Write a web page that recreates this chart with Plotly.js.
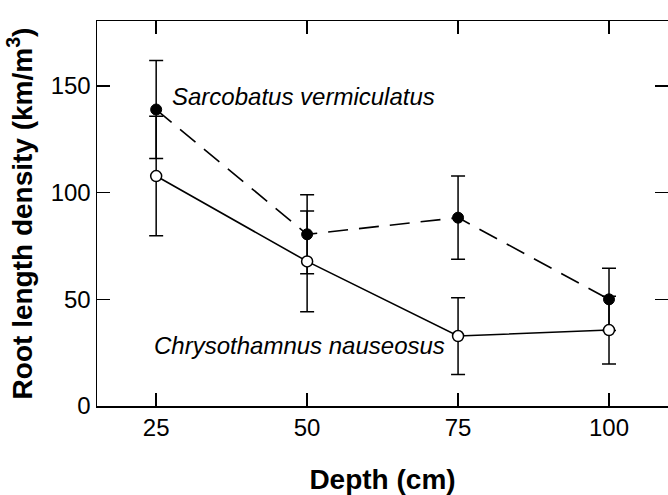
<!DOCTYPE html>
<html>
<head>
<meta charset="utf-8">
<script src="https://cdn.plot.ly/plotly-3.0.1.min.js"></script>
<style>html,body{margin:0;padding:0;background:#fff;}#chart{width:668px;height:495px;}</style>
</head>
<body>
<div id="chart"></div>
<script>
const depth = [25, 50, 75, 100];
const sarcobatus = [139, 80.5, 88.3, 50];
const sarcobatusErr = [23, 18.5, 19.5, 14.6];
const chrysothamnus = [107.8, 67.8, 32.8, 35.6];
const chrysothamnusErr = [28, 23.6, 18, 15.9];
const xTicks = [25, 50, 75, 100];
const yTicks = [0, 50, 100, 150];
const labelSarco = "Sarcobatus vermiculatus";
const labelChryso = "Chrysothamnus nauseosus";

const FONT = "Liberation Sans, Arial, Helvetica, sans-serif";

const traces = [
  {
    x: depth, y: sarcobatus, type: 'scatter', mode: 'lines+markers',
    name: labelSarco,
    line: {color: '#000', width: 1.6, dash: '20px,11px'},
    marker: {symbol: 'circle', size: 11, color: '#000', line: {color: '#000', width: 1}},
    error_y: {type: 'data', array: sarcobatusErr, visible: true, color: '#000', thickness: 1.5, width: 7}
  },
  {
    x: depth, y: chrysothamnus, type: 'scatter', mode: 'lines+markers',
    name: labelChryso,
    line: {color: '#000', width: 1.6},
    marker: {symbol: 'circle', size: 11, color: '#fff', line: {color: '#000', width: 1.5}},
    error_y: {type: 'data', array: chrysothamnusErr, visible: true, color: '#000', thickness: 1.5, width: 7}
  }
];

const layout = {
  width: 668, height: 495,
  margin: {l: 97, r: 0, t: 21, b: 89},
  paper_bgcolor: '#fff', plot_bgcolor: '#fff',
  showlegend: false,
  font: {family: FONT, color: '#000', size: 24},
  xaxis: {
    range: [15.2, 109.77],
    tickvals: xTicks, ticktext: xTicks.map(String),
    ticks: 'inside', ticklen: 13, tickwidth: 1.5, tickcolor: '#000',
    showline: true, linecolor: '#000', linewidth: 1.5, mirror: 'ticks',
    showgrid: false, zeroline: false,
    tickfont: {family: FONT, size: 24, color: '#000'},
    title: {text: 'Depth (cm)', font: {family: FONT, size: 28, color: '#000', weight: 'bold'}, standoff: 30}
  },
  yaxis: {
    range: [0, 180.5],
    tickvals: yTicks, ticktext: yTicks.map(String),
    ticks: 'inside', ticklen: 13, tickwidth: 1.5, tickcolor: '#000',
    showline: true, linecolor: '#000', linewidth: 1.5, mirror: 'ticks',
    showgrid: false, zeroline: false,
    tickfont: {family: FONT, size: 24, color: '#000'},
    title: {text: 'Root length density (km/m<sup>3</sup>)', font: {family: FONT, size: 28, color: '#000', weight: 'bold'}, standoff: 10}
  },
  annotations: [
    {x: 27.3, y: 144.9, xref: 'x', yref: 'y', text: labelSarco, showarrow: false,
     xanchor: 'left', yanchor: 'middle', font: {family: FONT, size: 24, color: '#000', style: 'italic'}},
    {x: 24.3, y: 28.4, xref: 'x', yref: 'y', text: labelChryso, showarrow: false,
     xanchor: 'left', yanchor: 'middle', font: {family: FONT, size: 24, color: '#000', style: 'italic'}}
  ]
};

Plotly.newPlot('chart', traces, layout, {staticPlot: true, displayModeBar: false});
</script>
</body>
</html>
